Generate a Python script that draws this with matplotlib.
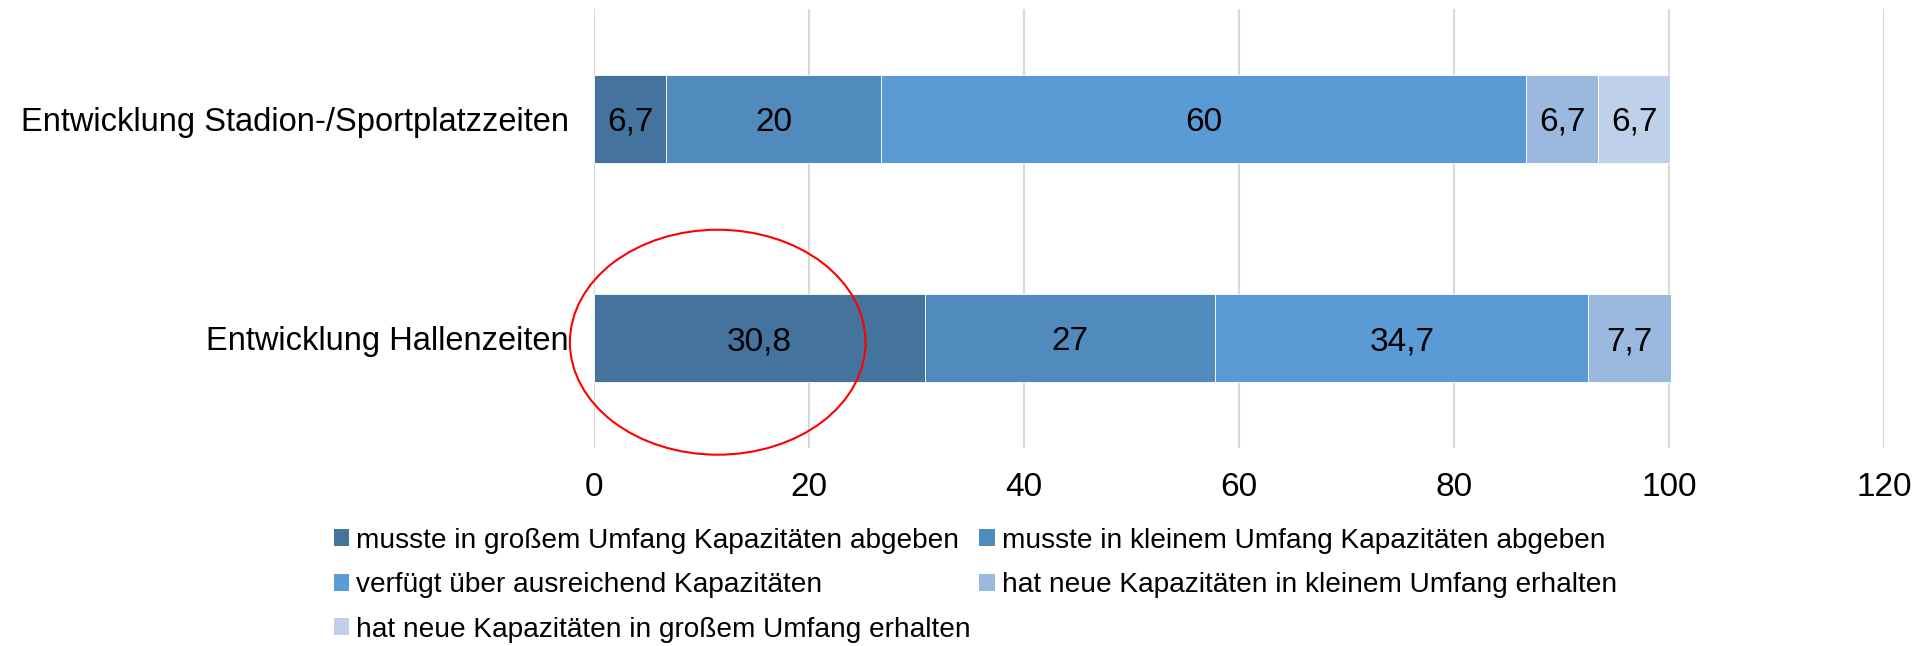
import matplotlib.pyplot as plt
from matplotlib.patches import Ellipse, Patch

plt.rcParams['font.family'] = ['Liberation Sans', 'DejaVu Sans']

# data
categories = ["Entwicklung Hallenzeiten", "Entwicklung Stadion-/Sportplatzzeiten"]
series_names = [
    "musste in großem Umfang Kapazitäten abgeben",
    "musste in kleinem Umfang Kapazitäten abgeben",
    "verfügt über ausreichend Kapazitäten",
    "hat neue Kapazitäten in kleinem Umfang erhalten",
    "hat neue Kapazitäten in großem Umfang erhalten",
]
gross_abgeben = [30.8, 6.7]
klein_abgeben = [27, 20]
ausreichend = [34.7, 60]
klein_erhalten = [7.7, 6.7]
gross_erhalten = [0, 6.7]
x_ticks = [0, 20, 40, 60, 80, 100, 120]

colors = ["#44749E", "#518ABC", "#5B9BD5", "#9BB9DF", "#BED0EA"]
series = [gross_abgeben, klein_abgeben, ausreichend, klein_erhalten, gross_erhalten]

fig = plt.figure(figsize=(19.32, 6.46), dpi=100)
ax = fig.add_axes([0.3075, 0.3065, 0.6677, 0.6795])

ypos = list(range(len(categories)))
left = [0.0] * len(categories)
for vals, col, name in zip(series, colors, series_names):
    bars = ax.barh(ypos, vals, left=left, height=0.4, color=col,
                   edgecolor="white", linewidth=0.6, label=name, zorder=3)
    for b, v in zip(bars, vals):
        if v > 0:
            ax.text(b.get_x() + b.get_width() / 2, b.get_y() + b.get_height() / 2,
                    f"{v:g}".replace(".", ","), ha="center", va="center_baseline",
                    fontsize=24, color="black", zorder=4)
    left = [l + v for l, v in zip(left, vals)]

ax.set_xlim(0, 120)
ax.set_ylim(-0.5, 1.5)
ax.set_xticks(x_ticks)
ax.set_xticklabels([str(t) for t in x_ticks], fontsize=24)
ax.set_yticks(ypos)
ax.set_yticklabels(categories, fontsize=23.5)
ax.tick_params(axis="both", length=0)
ax.tick_params(axis="x", pad=17)
ax.tick_params(axis="y", pad=18)
ax.grid(axis="x", color="#D9D9D9", linewidth=1.5, zorder=0)
for s in ax.spines.values():
    s.set_visible(False)

# red circle around the first value
ax.add_patch(Ellipse((11.5, -0.018), 27.5, 1.025, fill=False, edgecolor="red",
                     linewidth=1.5, clip_on=False, zorder=5))

# legend filled row by row
handles = [Patch(facecolor=c, edgecolor="none") for c in colors]
order = [0, 2, 4, 1, 3]
ax.legend([handles[i] for i in order], [series_names[i] for i in order],
          ncol=2, loc="upper left", bbox_to_anchor=(334 / 1932, 0.183),
          bbox_transform=fig.transFigure, frameon=False, fontsize=20.2,
          handlelength=0.55, handleheight=0.55, handletextpad=0.25,
          labelspacing=0.66, columnspacing=0.3, borderpad=0, borderaxespad=0)

fig.savefig("out.png", dpi=100)
